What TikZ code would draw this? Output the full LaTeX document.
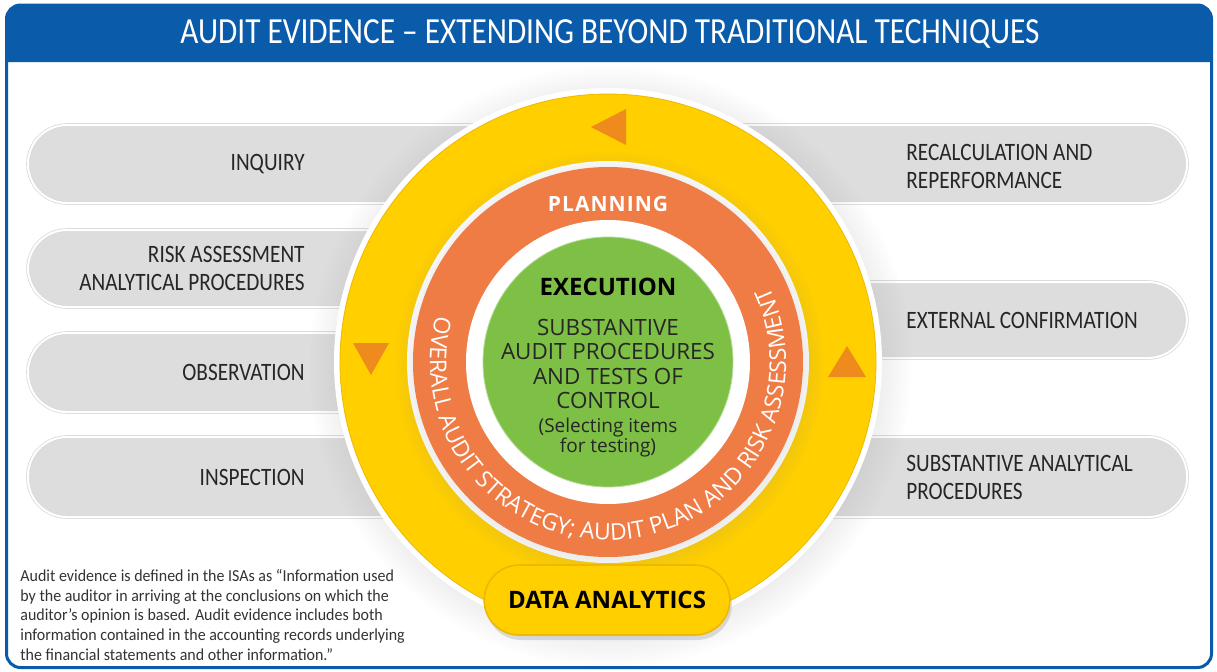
\documentclass[tikz,border=0pt]{standalone}
\usepackage{fontspec}
\setmainfont{Open Sans}
\newfontfamily\condfont[FakeStretch=0.85]{Carlito}
\newfontfamily\notefont[FakeStretch=0.95]{Carlito}
\usetikzlibrary{shapes.misc,decorations.text,shadows}

\definecolor{auditblue}{HTML}{0A5BAA}
\definecolor{pillgrey}{HTML}{DDDDDD}
\definecolor{ringyellow}{HTML}{FFCF00}
\definecolor{ringedge}{HTML}{EDB800}
\definecolor{ringorange}{HTML}{EF7B45}
\definecolor{trianglecol}{HTML}{EE8B1C}
\definecolor{execgreen}{HTML}{7EBF45}
\definecolor{notegrey}{HTML}{333333}

\begin{document}
\begin{tikzpicture}[x=0.5pt,y=0.5pt,%
  pill/.style={fill=pillgrey, draw=black!14, double=white, double distance=1pt, rounded corners=19.5pt},
  pilltext/.style={font=\condfont\fontsize{12.5}{14}\selectfont, text=black!85, inner sep=0pt},
  disc/.style={circle, inner sep=0pt, outer sep=0pt},
  ringtext/.style={text=white, font=\bfseries\fontsize{10.5}{12}\selectfont\addfontfeature{LetterSpace=5}},
  tri/.style={fill=trianglecol}]
  \useasboundingbox (0,0) rectangle (1217,-671);
  \fill[white] (0,0) rectangle (1217,-671);

  % frame and title
  \fill[auditblue] (6,-62) [rounded corners=7pt] -- (6,-5) -- (1211,-5) [sharp corners] -- (1211,-62) -- cycle;
  \draw[auditblue, line width=1.5pt, rounded corners=7pt] (6.5,-5) rectangle (1211.5,-667.5);
  \node[font=\condfont\fontsize{18.4}{21}\selectfont, text=white] (title) at (610,-34)
    {AUDIT EVIDENCE – EXTENDING BEYOND TRADITIONAL TECHNIQUES};

  % techniques
  \path[pill] (28,-125) rectangle (600,-203);
  \path[pill] (28,-230) rectangle (600,-307);
  \path[pill] (28,-333) rectangle (600,-412);
  \path[pill] (28,-437) rectangle (600,-517);
  \path[pill] (620,-125) rectangle (1187,-203);
  \path[pill] (620,-282) rectangle (1187,-358);
  \path[pill] (620,-437) rectangle (1187,-517);

  \node[pilltext, anchor=east] (inquiry) at (305,-164) {INQUIRY};
  \node[pilltext, anchor=east, align=right] (riskproc) at (305,-268)
    {RISK ASSESSMENT\\ANALYTICAL PROCEDURES};
  \node[pilltext, anchor=east] (observation) at (305,-372) {OBSERVATION};
  \node[pilltext, anchor=east] (inspection) at (305,-477) {INSPECTION};
  \node[pilltext, anchor=west, align=left] (recalc) at (906,-166)
    {RECALCULATION AND\\REPERFORMANCE};
  \node[pilltext, anchor=west] (extconf) at (906,-320) {EXTERNAL CONFIRMATION};
  \node[pilltext, anchor=west, align=left] (substproc) at (906,-477)
    {SUBSTANTIVE ANALYTICAL\\PROCEDURES};

  % rings
  \node[disc, fill=white, minimum size=274pt,
    circular drop shadow={shadow xshift=1pt, shadow yshift=-2pt, opacity=0.18}] (halo) at (608,-362) {};
  \node[disc, fill=ringyellow, draw=ringedge, minimum size=268pt] (cycle) at (halo.center) {};
  \node[disc, fill=white, minimum size=201pt] (gap) at (halo.center) {};
  \node[disc, fill=ringorange, minimum size=195pt,
    circular drop shadow={shadow xshift=0.5pt, shadow yshift=-1.5pt, opacity=0.2}] (planring) at (halo.center) {};
  \node[disc, fill=white, minimum size=142pt] (inner) at (halo.center) {};
  \node[disc, fill=execgreen, draw=execgreen!55!white, minimum size=125pt] (execution) at (halo.center) {};

  \fill[tri] (591,-127) -- (626,-109) -- (626,-145) -- cycle;
  \fill[tri] (371,-375) -- (353,-343) -- (389,-343) -- cycle;
  \fill[tri] (847,-346) -- (828,-377) -- (866,-377) -- cycle;

  \node[ringtext] (planning) at (608,-204) {PLANNING};
  \path[decorate, decoration={text along path, text align=center, text color=white,
    text={|\fontsize{11.5}{14}\selectfont|OVERALL AUDIT STRATEGY; AUDIT PLAN AND RISK ASSESSMENT}}]
    (halo.center) ++(160:178) arc[start angle=160, end angle=390, radius=178];

  \node[font=\bfseries\fontsize{12}{14}\selectfont] (exectitle) at (608,-287) {EXECUTION};
  \node[align=center, text=black!85, font=\fontsize{11.2}{12.2}\selectfont] (exectext) at (608,-364)
    {SUBSTANTIVE\\AUDIT PROCEDURES\\AND TESTS OF\\CONTROL};
  \node[align=center, text=black!85, font=\fontsize{9.5}{10}\selectfont] (execnote) at (608,-438)
    {(Selecting items\\for testing)};

  \node[rounded rectangle, fill=ringyellow, draw=ringedge, line width=0.8pt,
    minimum width=129.5pt, minimum height=35pt,
    drop shadow={shadow xshift=1pt, shadow yshift=-2.5pt, opacity=0.25},
    font=\bfseries\fontsize{12}{14}\selectfont] (data) at (607,-600) {DATA ANALYTICS};

  \node[anchor=north west, align=left, inner sep=0pt, text=notegrey,
    font=\notefont\fontsize{8.4}{9.85}\selectfont] (note) at (20,-569)
    {Audit evidence is defined in the ISAs as “Information used\\
     by the auditor in arriving at the conclusions on which the\\
     auditor’s opinion is based. Audit evidence includes both\\
     information contained in the accounting records underlying\\
     the financial statements and other information.”};
\end{tikzpicture}
\end{document}
